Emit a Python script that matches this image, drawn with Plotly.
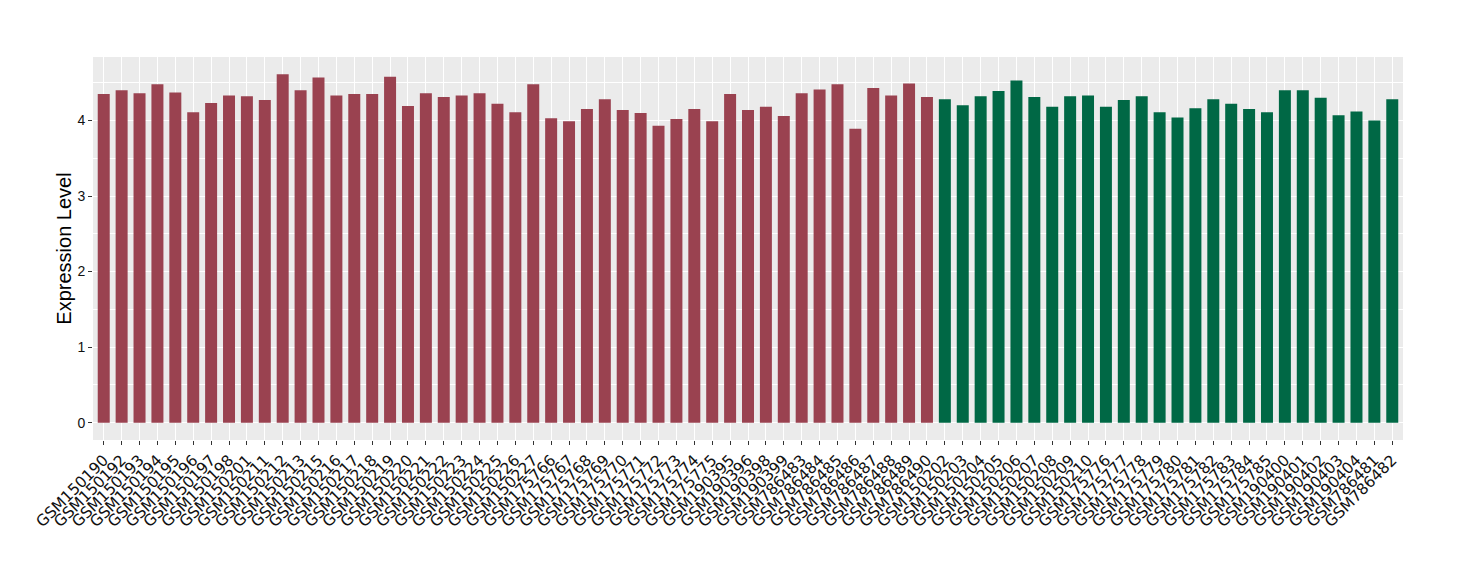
import plotly.graph_objects as go

red_samples = ["GSM150190", "GSM150192", "GSM150193", "GSM150194", "GSM150195", "GSM150196",
               "GSM150197", "GSM150198", "GSM150201", "GSM150211", "GSM150212", "GSM150213",
               "GSM150215", "GSM150216", "GSM150217", "GSM150218", "GSM150219", "GSM150220",
               "GSM150221", "GSM150222", "GSM150223", "GSM150224", "GSM150225", "GSM150226",
               "GSM150227", "GSM175766", "GSM175767", "GSM175768", "GSM175769", "GSM175770",
               "GSM175771", "GSM175772", "GSM175773", "GSM175774", "GSM175775", "GSM190395",
               "GSM190396", "GSM190398", "GSM190399", "GSM786483", "GSM786484", "GSM786485",
               "GSM786486", "GSM786487", "GSM786488", "GSM786489", "GSM786490"]
red_values = [4.35, 4.40, 4.36, 4.48, 4.37, 4.11, 4.23, 4.33, 4.32, 4.27, 4.61, 4.40,
              4.57, 4.33, 4.35, 4.35, 4.58, 4.19, 4.36, 4.31, 4.33, 4.36, 4.22, 4.11,
              4.48, 4.03, 3.99, 4.15, 4.28, 4.14, 4.10, 3.93, 4.02, 4.15, 3.99, 4.35,
              4.14, 4.18, 4.06, 4.36, 4.41, 4.48, 3.89, 4.43, 4.33, 4.49, 4.31]

green_samples = ["GSM150202", "GSM150203", "GSM150204", "GSM150205", "GSM150206", "GSM150207",
                 "GSM150208", "GSM150209", "GSM150210", "GSM175776", "GSM175777", "GSM175778",
                 "GSM175779", "GSM175780", "GSM175781", "GSM175782", "GSM175783", "GSM175784",
                 "GSM175785", "GSM190400", "GSM190401", "GSM190402", "GSM190403", "GSM190404",
                 "GSM786481", "GSM786482"]
green_values = [4.28, 4.20, 4.32, 4.39, 4.53, 4.31, 4.18, 4.32, 4.33, 4.18, 4.27, 4.32,
                4.11, 4.04, 4.16, 4.28, 4.22, 4.15, 4.11, 4.40, 4.40, 4.30, 4.07, 4.12,
                4.00, 4.28]

y_ticks = [0, 1, 2, 3, 4]

RED = "#9A4250"
GREEN = "#006845"

categories = red_samples + green_samples

fig = go.Figure()
fig.add_trace(go.Bar(x=red_samples, y=red_values, marker=dict(color=RED, line=dict(width=0)),
                     showlegend=False))
fig.add_trace(go.Bar(x=green_samples, y=green_values, marker=dict(color=GREEN, line=dict(width=0)),
                     showlegend=False))

fig.update_layout(
    width=1460, height=580,
    margin=dict(l=85, r=65, t=49, b=148),
    paper_bgcolor="white",
    plot_bgcolor="#EBEBEB",
    bargap=0.33,
    font=dict(family="Liberation Sans, Arial, sans-serif", color="#4D4D4D"),
    xaxis=dict(
        type="category",
        categoryorder="array", categoryarray=categories,
        tickmode="array", tickvals=categories, ticktext=categories,
        range=[-0.6, len(categories) - 0.4],
        tickangle=-45,
        tickfont=dict(family="DejaVu Sans, sans-serif", size=15.5, color="#111111"),
        showgrid=True, gridcolor="white", gridwidth=1.1,
        ticks="outside", ticklen=4, tickcolor="#333333", tickwidth=1,
        zeroline=False, showline=False, automargin=False,
    ),
    yaxis=dict(
        range=[-0.23, 4.84],
        tickvals=y_ticks,
        tickfont=dict(size=14, color="#111111"),
        title=dict(text="Expression Level", font=dict(size=20, color="black"), standoff=0),
        showgrid=True, gridcolor="white", gridwidth=1.1,
        minor=dict(dtick=0.5, tick0=0, showgrid=True, gridcolor="white", gridwidth=0.5, ticks=""),
        ticks="outside", ticklen=4, tickcolor="#333333", tickwidth=1,
        zeroline=False, showline=False, automargin=False,
    ),
)

fig.write_html("out.html")
